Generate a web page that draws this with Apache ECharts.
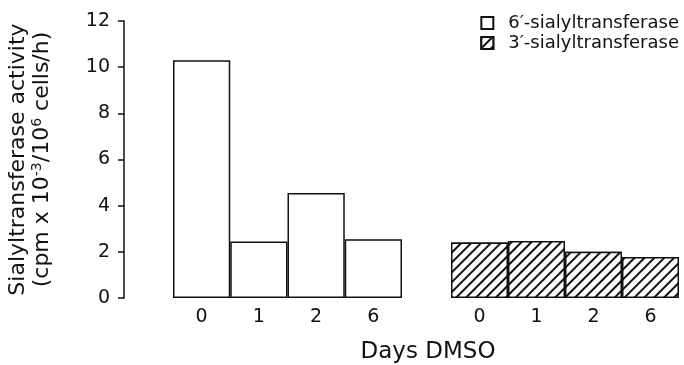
<!DOCTYPE html>
<html>
<head>
<meta charset="utf-8">
<script src="https://cdn.jsdelivr.net/npm/echarts@6/dist/echarts.min.js"></script>
<style>
  html, body { margin: 0; padding: 0; background: #fff; }
  #chart { width: 684px; height: 365px; }
</style>
</head>
<body>
<div id="chart"></div>
<script>
    // days of DMSO treatment, same for both enzymes
    let days = ['0', '1', '2', '6'];
    // sialyltransferase activity, cpm x 10^-3 / 10^6 cells / h
    let sixValues = [10.3, 2.45, 4.55, 2.55];
    let threeValues = [2.4, 2.47, 2.0, 1.78];
    let yTicks = [0, 12, 2]; // min, max, interval

    let chart = echarts.init(document.getElementById('chart'));
    let font = 'DejaVu Sans, sans-serif';

    let hatch = {
        symbol: 'rect',
        symbolSize: 1,
        dashArrayX: [1, 0],
        dashArrayY: [1.3, 4.2],
        rotation: -Math.PI / 4,
        color: '#111',
        backgroundColor: '#fff'
    };

    let option = {
        animation: false,
        backgroundColor: '#fff',
        textStyle: { fontFamily: font, color: '#111' },
        legend: {
            orient: 'vertical',
            right: 0,
            top: 9,
            icon: 'rect',
            itemWidth: 12,
            itemHeight: 12,
            itemGap: 2,
            textStyle: { fontSize: 18, color: '#111', fontFamily: font, padding: [0, 0, 0, 10] },
            data: ['6\u2032-sialyltransferase', '3\u2032-sialyltransferase']
        },
        grid: [
            { left: 173, right: 282, top: 21, bottom: 67 },
            { left: 451, right: 5, top: 21, bottom: 67 }
        ],
        xAxis: [0, 1].map(function (i) {
            return {
                type: 'category',
                gridIndex: i,
                data: days,
                axisLine: { show: false },
                axisTick: { show: false },
                axisLabel: { fontSize: 19, color: '#111', margin: 10, fontFamily: font }
            };
        }),
        yAxis: [
            {
                type: 'value',
                gridIndex: 0,
                min: yTicks[0],
                max: yTicks[1],
                interval: yTicks[2],
                offset: 49,
                axisLine: { show: true, lineStyle: { color: '#111', width: 1.5 } },
                axisTick: { show: true, length: 6, lineStyle: { color: '#111', width: 1.5 } },
                axisLabel: { fontSize: 19, color: '#111', margin: 14, fontFamily: font },
                splitLine: { show: false },
                name: '{a|Sialyltransferase activity}\n{a|(cpm x 10}{s|-3}{a|/10}{s|6}{a| cells/h)}',
                nameLocation: 'middle',
                nameRotate: 90,
                nameGap: 70,
                nameTextStyle: {
                    rich: {
                        a: { fontSize: 22, lineHeight: 24, color: '#111', fontFamily: font },
                        s: { fontSize: 14, lineHeight: 24, verticalAlign: 'top', color: '#111', fontFamily: font }
                    }
                }
            },
            {
                type: 'value',
                gridIndex: 1,
                min: yTicks[0],
                max: yTicks[1],
                interval: yTicks[2],
                show: false
            }
        ],
        graphic: [{
            type: 'text',
            x: 428,
            y: 352,
            style: {
                text: 'Days DMSO',
                fontSize: 23,
                fill: '#111',
                fontFamily: font,
                align: 'center',
                verticalAlign: 'middle'
            }
        }],
        series: [
            {
                name: '6\u2032-sialyltransferase',
                type: 'bar',
                xAxisIndex: 0,
                yAxisIndex: 0,
                barCategoryGap: '0%',
                data: sixValues,
                itemStyle: { color: '#fff', borderColor: '#111', borderWidth: 1.5 }
            },
            {
                name: '3\u2032-sialyltransferase',
                type: 'bar',
                xAxisIndex: 1,
                yAxisIndex: 1,
                barCategoryGap: '0%',
                data: threeValues,
                itemStyle: { color: '#fff', borderColor: '#111', borderWidth: 1.5, decal: hatch }
            }
        ]
    };

    chart.setOption(option);
</script>
</body>
</html>
